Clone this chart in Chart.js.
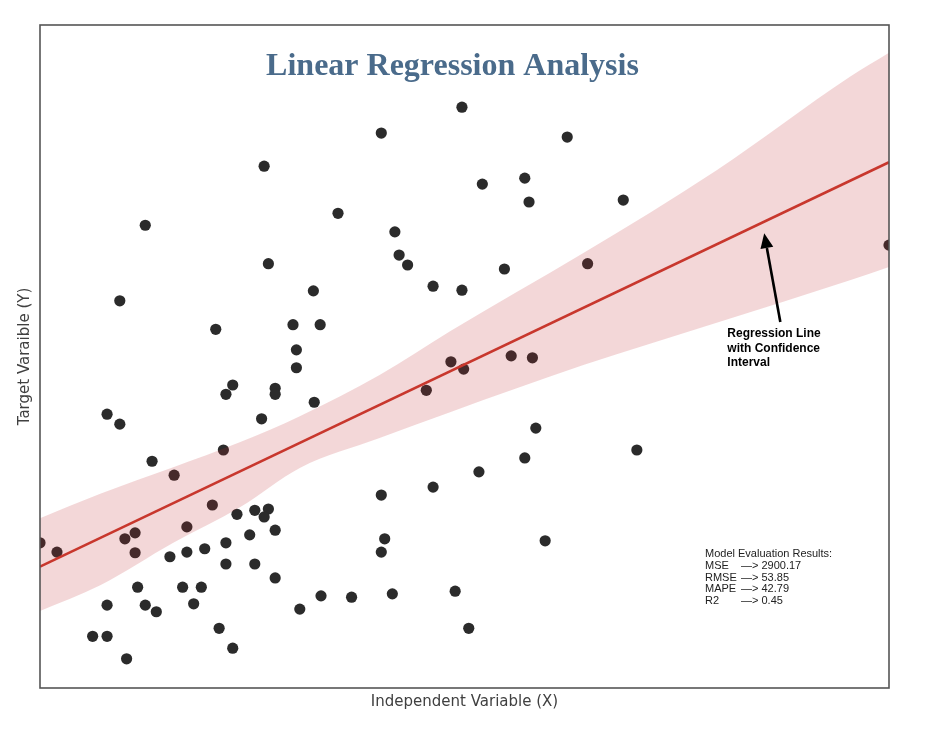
<!DOCTYPE html>
<html lang="en">
<head>
    <meta charset="UTF-8">
    <title>Linear Regression Analysis</title>
    <style>
        body {
            margin: 0;
            background-color: #fff;
        }
        #chart {
            display: block;
        }
    </style>
</head>
<body>
    <canvas id="chart" width="936" height="730"></canvas>

    <script src="https://cdn.jsdelivr.net/npm/chart.js"></script>
    <script>
        // observations (arbitrary units, x and y both 0..100 over the plot frame)
        const pointX = [
            26.4, 12.4, 26.9, 32.2, 9.4, 20.7, 29.8, 33.0, 30.2, 30.2,
            22.7, 27.7, 21.9, 27.7, 32.3, 7.9, 9.4, 26.1, 21.6, 13.2,
            15.8, 20.3, 23.2, 25.3, 26.9, 26.4, 27.7, 17.3, 24.7, 0.0,
            2.0, 10.0, 11.2, 11.2, 15.3, 17.3, 19.4, 21.9, 21.9, 25.3,
            27.7, 11.5, 16.8, 19.0, 7.9, 12.4, 13.7, 18.1, 30.6, 33.1,
            21.1, 22.7, 6.2, 7.9, 10.2, 49.7, 40.2, 62.1, 52.1, 57.1,
            57.6, 68.7, 35.1, 41.8, 42.3, 43.3, 54.7, 46.3, 49.7, 64.5,
            48.4, 49.9, 55.5, 58.0, 45.5, 58.4, 70.3, 57.1, 51.7, 46.3,
            40.2, 59.5, 40.6, 40.2, 36.7, 41.5, 48.9, 50.5, 100.0
        ];
        const pointY = [
            78.7, 69.8, 64.0, 59.9, 58.4, 54.1, 54.8, 54.8, 51.0, 48.3,
            45.7, 45.2, 44.3, 44.3, 43.1, 41.3, 39.8, 40.6, 35.9, 34.2,
            32.1, 27.6, 26.2, 26.8, 27.0, 25.8, 23.8, 24.3, 23.1, 21.9,
            20.5, 22.5, 23.4, 20.4, 19.8, 20.5, 21.0, 21.9, 18.7, 18.7,
            16.6, 15.2, 15.2, 15.2, 12.5, 12.5, 11.5, 12.7, 11.9, 13.9,
            9.0, 6.0, 7.8, 7.8, 4.4, 87.6, 83.7, 83.1, 76.0, 76.9,
            73.3, 73.6, 71.6, 68.8, 65.3, 63.8, 63.2, 60.6, 60.0, 64.0,
            49.2, 48.1, 50.1, 49.8, 44.9, 39.2, 35.9, 34.7, 32.6, 30.3,
            29.1, 22.2, 22.5, 20.5, 13.7, 14.2, 14.6, 9.0, 66.8
        ];

        // fitted line and its confidence band
        const lineX = [0, 100];
        const lineY = [18.3, 79.3];
        const bandX = [0, 7.1, 15.7, 23.6, 30.6, 40.0, 48.3, 64.0, 79.7, 95.4, 100];
        const bandUpper = [25.6, 29.3, 33.3, 37.1, 41.0, 47.2, 53.8, 65.6, 78.1, 92.2, 95.8];
        const bandLower = [11.6, 15.5, 21.9, 27.3, 33.2, 37.7, 41.6, 48.7, 55.1, 61.5, 63.5];

        const metricNames = ['MSE', 'RMSE', 'MAPE', 'R2'];
        const metricValues = ['2900.17', '53.85', '42.79', '0.45'];
        const noteLines = ['Regression Line', 'with Confidence', 'Interval'];

        const zip = (xs, ys) => xs.map((x, i) => ({ x: x, y: ys[i] }));

        // title, frame, arrow note and metrics text
        const extras = {
            id: 'extras',
            afterDatasetsDraw(chart) {
                const ctx = chart.ctx;
                const a = chart.chartArea;
                const sx = chart.scales.x, sy = chart.scales.y;
                ctx.save();

                ctx.fillStyle = '#4a6b8b';
                ctx.font = 'bold 32px "Liberation Serif", "Times New Roman", serif';
                ctx.textAlign = 'center';
                ctx.textBaseline = 'alphabetic';
                ctx.fillText('Linear Regression Analysis', (a.left + a.right) / 2 - 12, a.top + 50);

                // arrow pointing at the line
                const tipX = sx.getPixelForValue(85.3), tipY = sy.getPixelForValue(68.6);
                const tailX = sx.getPixelForValue(87.2), tailY = sy.getPixelForValue(55.2);
                const ang = Math.atan2(tipY - tailY, tipX - tailX);
                const headLen = 15, headW = 6.5;
                const bx = tipX - headLen * Math.cos(ang), by = tipY - headLen * Math.sin(ang);
                ctx.strokeStyle = '#000';
                ctx.lineWidth = 2.6;
                ctx.beginPath();
                ctx.moveTo(tailX, tailY);
                ctx.lineTo(bx, by);
                ctx.stroke();
                ctx.fillStyle = '#000';
                ctx.beginPath();
                ctx.moveTo(tipX, tipY);
                ctx.lineTo(bx + headW * Math.sin(ang), by - headW * Math.cos(ang));
                ctx.lineTo(bx - headW * Math.sin(ang), by + headW * Math.cos(ang));
                ctx.closePath();
                ctx.fill();

                ctx.font = 'bold 12px "Liberation Sans", Arial, sans-serif';
                ctx.textAlign = 'left';
                ctx.textBaseline = 'middle';
                noteLines.forEach((t, i) => ctx.fillText(t, tailX - 53, tailY + 12 + i * 14.5));

                // model evaluation text
                const mx = a.right - 184, my = a.bottom - 134;
                ctx.fillStyle = '#222';
                ctx.font = '11px "Liberation Sans", Arial, sans-serif';
                ctx.fillText('Model Evaluation Results:', mx, my);
                metricNames.forEach((n, i) => {
                    const y = my + 11.8 * (i + 1);
                    ctx.fillText(n, mx, y);
                    ctx.fillText('\u2014> ' + metricValues[i], mx + 36, y);
                });

                // frame
                ctx.strokeStyle = '#555';
                ctx.lineWidth = 1.6;
                ctx.strokeRect(a.left, a.top, a.right - a.left, a.bottom - a.top);
                ctx.restore();
            }
        };

        const axisFont = { family: '"DejaVu Sans", sans-serif', size: 15 };

        new Chart(document.getElementById('chart'), {
            type: 'scatter',
            data: {
                datasets: [
                    {
                        label: 'observations',
                        data: zip(pointX, pointY),
                        backgroundColor: '#2b2b2b',
                        borderWidth: 0,
                        pointRadius: 5.6,
                        clip: 0,
                        order: 3
                    },
                    {
                        type: 'line',
                        label: 'upper',
                        data: zip(bandX, bandUpper),
                        showLine: true,
                        cubicInterpolationMode: 'monotone',
                        borderWidth: 0,
                        pointRadius: 0,
                        backgroundColor: 'rgba(190, 40, 50, 0.19)',
                        fill: '+1',
                        clip: 0,
                        order: 2
                    },
                    {
                        type: 'line',
                        label: 'lower',
                        data: zip(bandX, bandLower),
                        showLine: true,
                        cubicInterpolationMode: 'monotone',
                        borderWidth: 0,
                        pointRadius: 0,
                        fill: false,
                        clip: 0,
                        order: 2
                    },
                    {
                        type: 'line',
                        label: 'regression',
                        data: zip(lineX, lineY),
                        showLine: true,
                        borderColor: '#c8372d',
                        borderWidth: 2.6,
                        pointRadius: 0,
                        fill: false,
                        clip: 0,
                        order: 1
                    }
                ]
            },
            options: {
                responsive: false,
                animation: false,
                layout: { padding: { top: 25, right: 47, left: 0, bottom: 0 } },
                plugins: {
                    legend: { display: false },
                    tooltip: { enabled: false }
                },
                scales: {
                    x: {
                        type: 'linear',
                        min: 0,
                        max: 100,
                        grid: { display: false },
                        border: { display: false },
                        ticks: { display: false },
                        title: {
                            display: true,
                            text: 'Independent Variable (X)',
                            color: '#404040',
                            font: axisFont,
                            padding: { top: 0, bottom: 19 }
                        },
                        afterFit(scale) { scale.height = 42; }
                    },
                    y: {
                        min: 0,
                        max: 100,
                        grid: { display: false },
                        border: { display: false },
                        ticks: { display: false },
                        title: {
                            display: true,
                            text: 'Target Varaible (Y)',
                            color: '#404040',
                            font: axisFont,
                            padding: { top: 16, bottom: 0 }
                        },
                        afterFit(scale) { scale.width = 40; }
                    }
                }
            },
            plugins: [extras]
        });
    </script>
</body>
</html>
